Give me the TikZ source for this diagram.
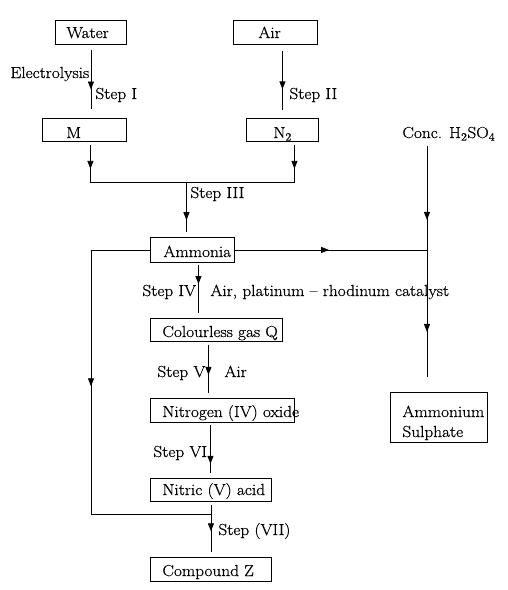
\documentclass[tikz,border=0pt]{standalone}
\usepackage{fontspec}
\setmainfont{Latin Modern Roman}[FakeStretch=1.08,FakeBold=0.6]
\usetikzlibrary{arrows.meta,decorations.markings}
\begin{document}
\begin{tikzpicture}[x=1pt,y=-1pt,
  font=\fontsize{16}{19}\selectfont,
  line width=0.9pt,
  box/.style={draw, rectangle, inner sep=0pt, anchor=north west},
  lbl/.style={anchor=base west, inner sep=0pt},
  tip/.style={postaction={decorate}, decoration={markings, mark=at position #1 with {\arrow{Triangle[width=6pt,length=8pt]}}}},
  tiptwo/.style 2 args={postaction={decorate}, decoration={markings,
      mark=at position #1 with {\arrow{Triangle[width=6pt,length=8pt]}},
      mark=at position #2 with {\arrow{Triangle[width=6pt,length=8pt]}}}}]
\useasboundingbox (0,0) rectangle (507,590);

% boxes
\node[box, minimum width=71pt, minimum height=24pt] (water) at (55,20) {};
\node[box, minimum width=84pt, minimum height=24pt] (air) at (233,20) {};
\node[box, minimum width=84pt, minimum height=23pt] (M) at (42,118) {};
\node[box, minimum width=72pt, minimum height=23pt] (N2) at (246,118) {};
\node[box, minimum width=84pt, minimum height=25pt] (ammonia) at (150,237) {};
\node[box, minimum width=132pt, minimum height=23pt] (colourless) at (150,318) {};
\node[box, minimum width=144pt, minimum height=24pt] (nitrogen) at (150,398) {};
\node[box, minimum width=121pt, minimum height=23pt] (nitric) at (150,478) {};
\node[box, minimum width=121pt, minimum height=24pt] (compound) at (150,557) {};
\node[box, minimum width=97pt, minimum height=50pt] (sulphate) at (390,392) {};

% texts
\node[lbl] (twater) at (66,38) {Water};
\node[lbl] (tair) at (258,38) {Air};
\node[lbl] (tM) at (66,138) {M};
\node[lbl] (tN2) at (273,138) {N\textsubscript{2}};
\node[lbl] (tconc) at (402,138) {Conc. H\textsubscript{2}SO\textsubscript{4}};
\node[lbl] (telec) at (10,78) {Electrolysis};
\node[lbl] (tstep1) at (95,99) {Step I};
\node[lbl] (tstep2) at (289,99) {Step II};
\node[lbl] (tstep3) at (190,198) {Step III};
\node[lbl] (tammonia) at (163,257) {Ammonia};
\node[lbl] (tstep4) at (142,296) {Step IV};
\node[lbl] (tcat) at (210,296) {Air, platinum -- rhodinum catalyst};
\node[lbl] (tcolour) at (162,337) {Colourless gas Q};
\node[lbl] (tstep5) at (157,377) {Step V};
\node[lbl] (tair5) at (224,377) {Air};
\node[lbl] (tnitrogen) at (162,417) {Nitrogen (IV) oxide};
\node[lbl] (tamm) at (402,417) {Ammonium};
\node[lbl] (tsulph) at (402,437) {Sulphate};
\node[lbl] (tstep6) at (153,457) {Step VI};
\node[lbl] (tnitric) at (162,495) {Nitric (V) acid};
\node[lbl] (tstep7) at (218,535) {Step (VII)};
\node[lbl] (tcompound) at (162,576) {Compound Z};

% coordinates
\coordinate (w1) at ([yshift=-5pt]water.south);
\coordinate (w2) at ([yshift=9pt]water.south |- M.north);
\coordinate (a1) at ([xshift=7pt,yshift=-6pt]air.south);
\coordinate (a2) at ([yshift=8pt]a1 |- N2.north);
\coordinate (m1) at ([xshift=6pt,yshift=-3pt]M.south);
\coordinate (m2) at ([yshift=-38pt]m1);
\coordinate (n1) at ([xshift=12pt,yshift=-3pt]N2.south);
\coordinate (n2) at (n1 |- m2);
\coordinate (s3) at ([xshift=-6pt,yshift=5pt]ammonia.north);
\coordinate (j3) at (s3 |- m2);
\coordinate (h1) at (427,146);
\coordinate (h2) at (427,377);
\coordinate (k) at (h1 |- ammonia.east);
\coordinate (c5) at ([yshift=-13pt]nitric.south);

% connectors
\draw[tip=0.67] (w1) -- (w2);
\draw[tip=0.65] (a1) -- (a2);
\draw[tip=0.63] (m1) -- (m2);
\draw[tip=0.63] (n1) -- (n2);
\draw (m2) -- (n2);
\draw[tip=0.76] (j3) -- (s3);
\draw[tiptwo={0.32}{0.805}] (h1) -- (h2);
\draw[tip=0.49] (ammonia.east) -- (k);
\draw[tip=0.44] (ammonia.west) -- ++(-59,0) |- (c5);
\draw[tip=0.40] ([xshift=6pt,yshift=-2pt]ammonia.south) -- ([xshift=6pt,yshift=-50pt]ammonia.south);
\draw[tip=0.625] ([xshift=-8pt,yshift=-3pt]colourless.south) -- ([xshift=-8pt,yshift=-51pt]colourless.south);
\draw[tip=0.81] ([xshift=-12pt,yshift=-2pt]nitrogen.south) -- ([xshift=-12pt,yshift=-50pt]nitrogen.south);
\draw[tip=0.56] ([yshift=-3pt]nitric.south) -- ([yshift=5pt]compound.north);
\end{tikzpicture}
\end{document}
